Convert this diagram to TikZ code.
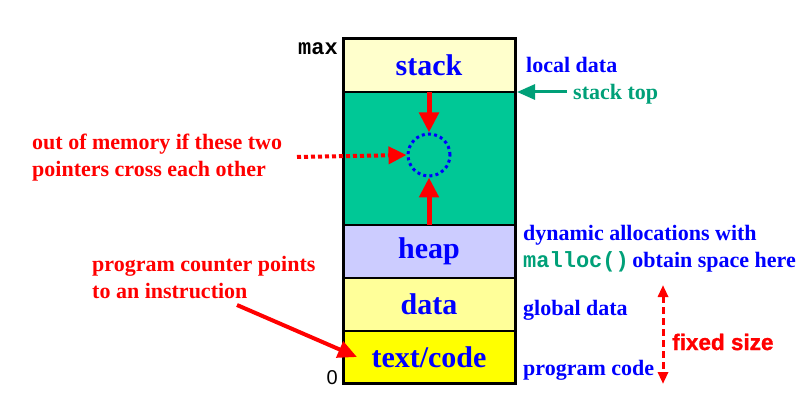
\documentclass[tikz,border=0pt]{standalone}
\usepackage{fontspec}
\setmainfont{Liberation Serif}
\setsansfont{Liberation Sans}
\setmonofont{Liberation Mono}
\newfontfamily\heavysans[BoldFont={Liberation Sans Bold},BoldFeatures={FakeBold=1.2}]{Liberation Sans}
\usetikzlibrary{arrows.meta}
\definecolor{memgreen}{RGB}{0,200,150}
\definecolor{stackfill}{RGB}{255,255,204}
\definecolor{heapfill}{RGB}{204,204,255}
\definecolor{datafill}{RGB}{255,255,153}
\definecolor{textfill}{RGB}{255,255,0}
\definecolor{labgreen}{RGB}{0,160,120}
\definecolor{labblue}{RGB}{0,0,255}
\definecolor{labred}{RGB}{255,0,0}
\tikzset{
  seg/.style={draw=black, line width=1.5pt, minimum width=172pt, inner sep=0pt, outer sep=0pt,
    font=\fontsize{30}{32}\selectfont\bfseries, text=labblue},
  redarrow/.style={draw=labred, line width=5pt, -{Triangle[width=19pt,length=20pt]}},
  redlab/.style={text=labred, font=\fontsize{22}{27}\selectfont\bfseries, align=left, anchor=west, inner sep=0pt},
  bluelab/.style={text=labblue, font=\fontsize{22}{27}\selectfont\bfseries, align=left, anchor=west, inner sep=0pt},
}
\begin{document}
\begin{tikzpicture}[x=1pt,y=-1pt]
\useasboundingbox (0,0) rectangle (802,403);
% memory segments
\node[seg, fill=stackfill, minimum height=53pt] (stack) at (429,65.5) {stack};
\node[seg, fill=memgreen, minimum height=133pt] (free) at (429,158.5) {};
\node[seg, fill=heapfill, minimum height=53pt] (heap) at (429,251.5) {heap};
\node[seg, fill=datafill, minimum height=53pt] (data) at (429,304.5) {data};
\node[seg, fill=textfill, minimum height=52pt] (code) at (429,357) {text/code};
\draw[line width=3pt] (stack.north west) rectangle (code.south east);
% circle and pointers
\node[draw=labblue, line width=3pt, dash pattern=on 3pt off 3.2pt, circle, minimum size=42pt, inner sep=0pt] (circ) at (429,155) {};
\draw[redarrow] (stack.south) -- (circ.north);
\draw[redarrow] (free.south) -- (circ.south);
% max and 0
\node[font=\fontsize{22}{24}\selectfont\ttfamily\bfseries, anchor=east, inner sep=0pt] (maxlab) at (338,49) {max};
\node[font=\fontsize{20}{22}\selectfont\sffamily, anchor=east, inner sep=0pt] (zerolab) at (338,378) {0};
% left labels
\node[redlab] (oom) at (32,158) {out of memory if these two\\pointers cross each other};
\coordinate (oomstart) at (297,157);
\draw[draw=labred, line width=4pt, dash pattern=on 4pt off 3pt, -{Triangle[width=17pt,length=18pt]}] (oomstart) -- (circ.west);
\node[redlab] (pc) at (92,277.5) {program counter points\\to an instruction};
\coordinate (pcstart) at (237,305);
\coordinate (pcend) at (357,357);
\draw[draw=labred, line width=4pt, -{Triangle[width=17pt,length=19pt]}] (pcstart) -- (pcend);
% right labels
\node[bluelab] (local) at (526,65) {local data};
\node[bluelab, text=labgreen] (stop) at (573,94) {stack top};
\coordinate (stopend) at (517,92);
\coordinate (stopstart) at (567,92);
\draw[draw=labgreen, line width=3pt, -{Triangle[width=15pt,length=18pt]}] (stopstart) -- (stopend);
\node[bluelab] (dyn) at (523,248.5) {dynamic allocations with\\{\color{labgreen}\ttfamily malloc()}\,obtain space here};
\node[bluelab] (glob) at (523,310) {global data};
\node[bluelab] (prog) at (523,370) {program code};
\node[text=labred, font=\fontsize{22.5}{24}\selectfont\heavysans\bfseries, anchor=west, inner sep=0pt] (fixed) at (672,342) {fixed size};
\coordinate (fixtop) at (663,285);
\coordinate (fixbot) at (663,384);
\draw[draw=labred, line width=3pt, dash pattern=on 7pt off 4pt, {Triangle[width=10pt,length=12pt]}-{Triangle[width=10pt,length=12pt]}] (fixtop) -- (fixbot);
\end{tikzpicture}
\end{document}
